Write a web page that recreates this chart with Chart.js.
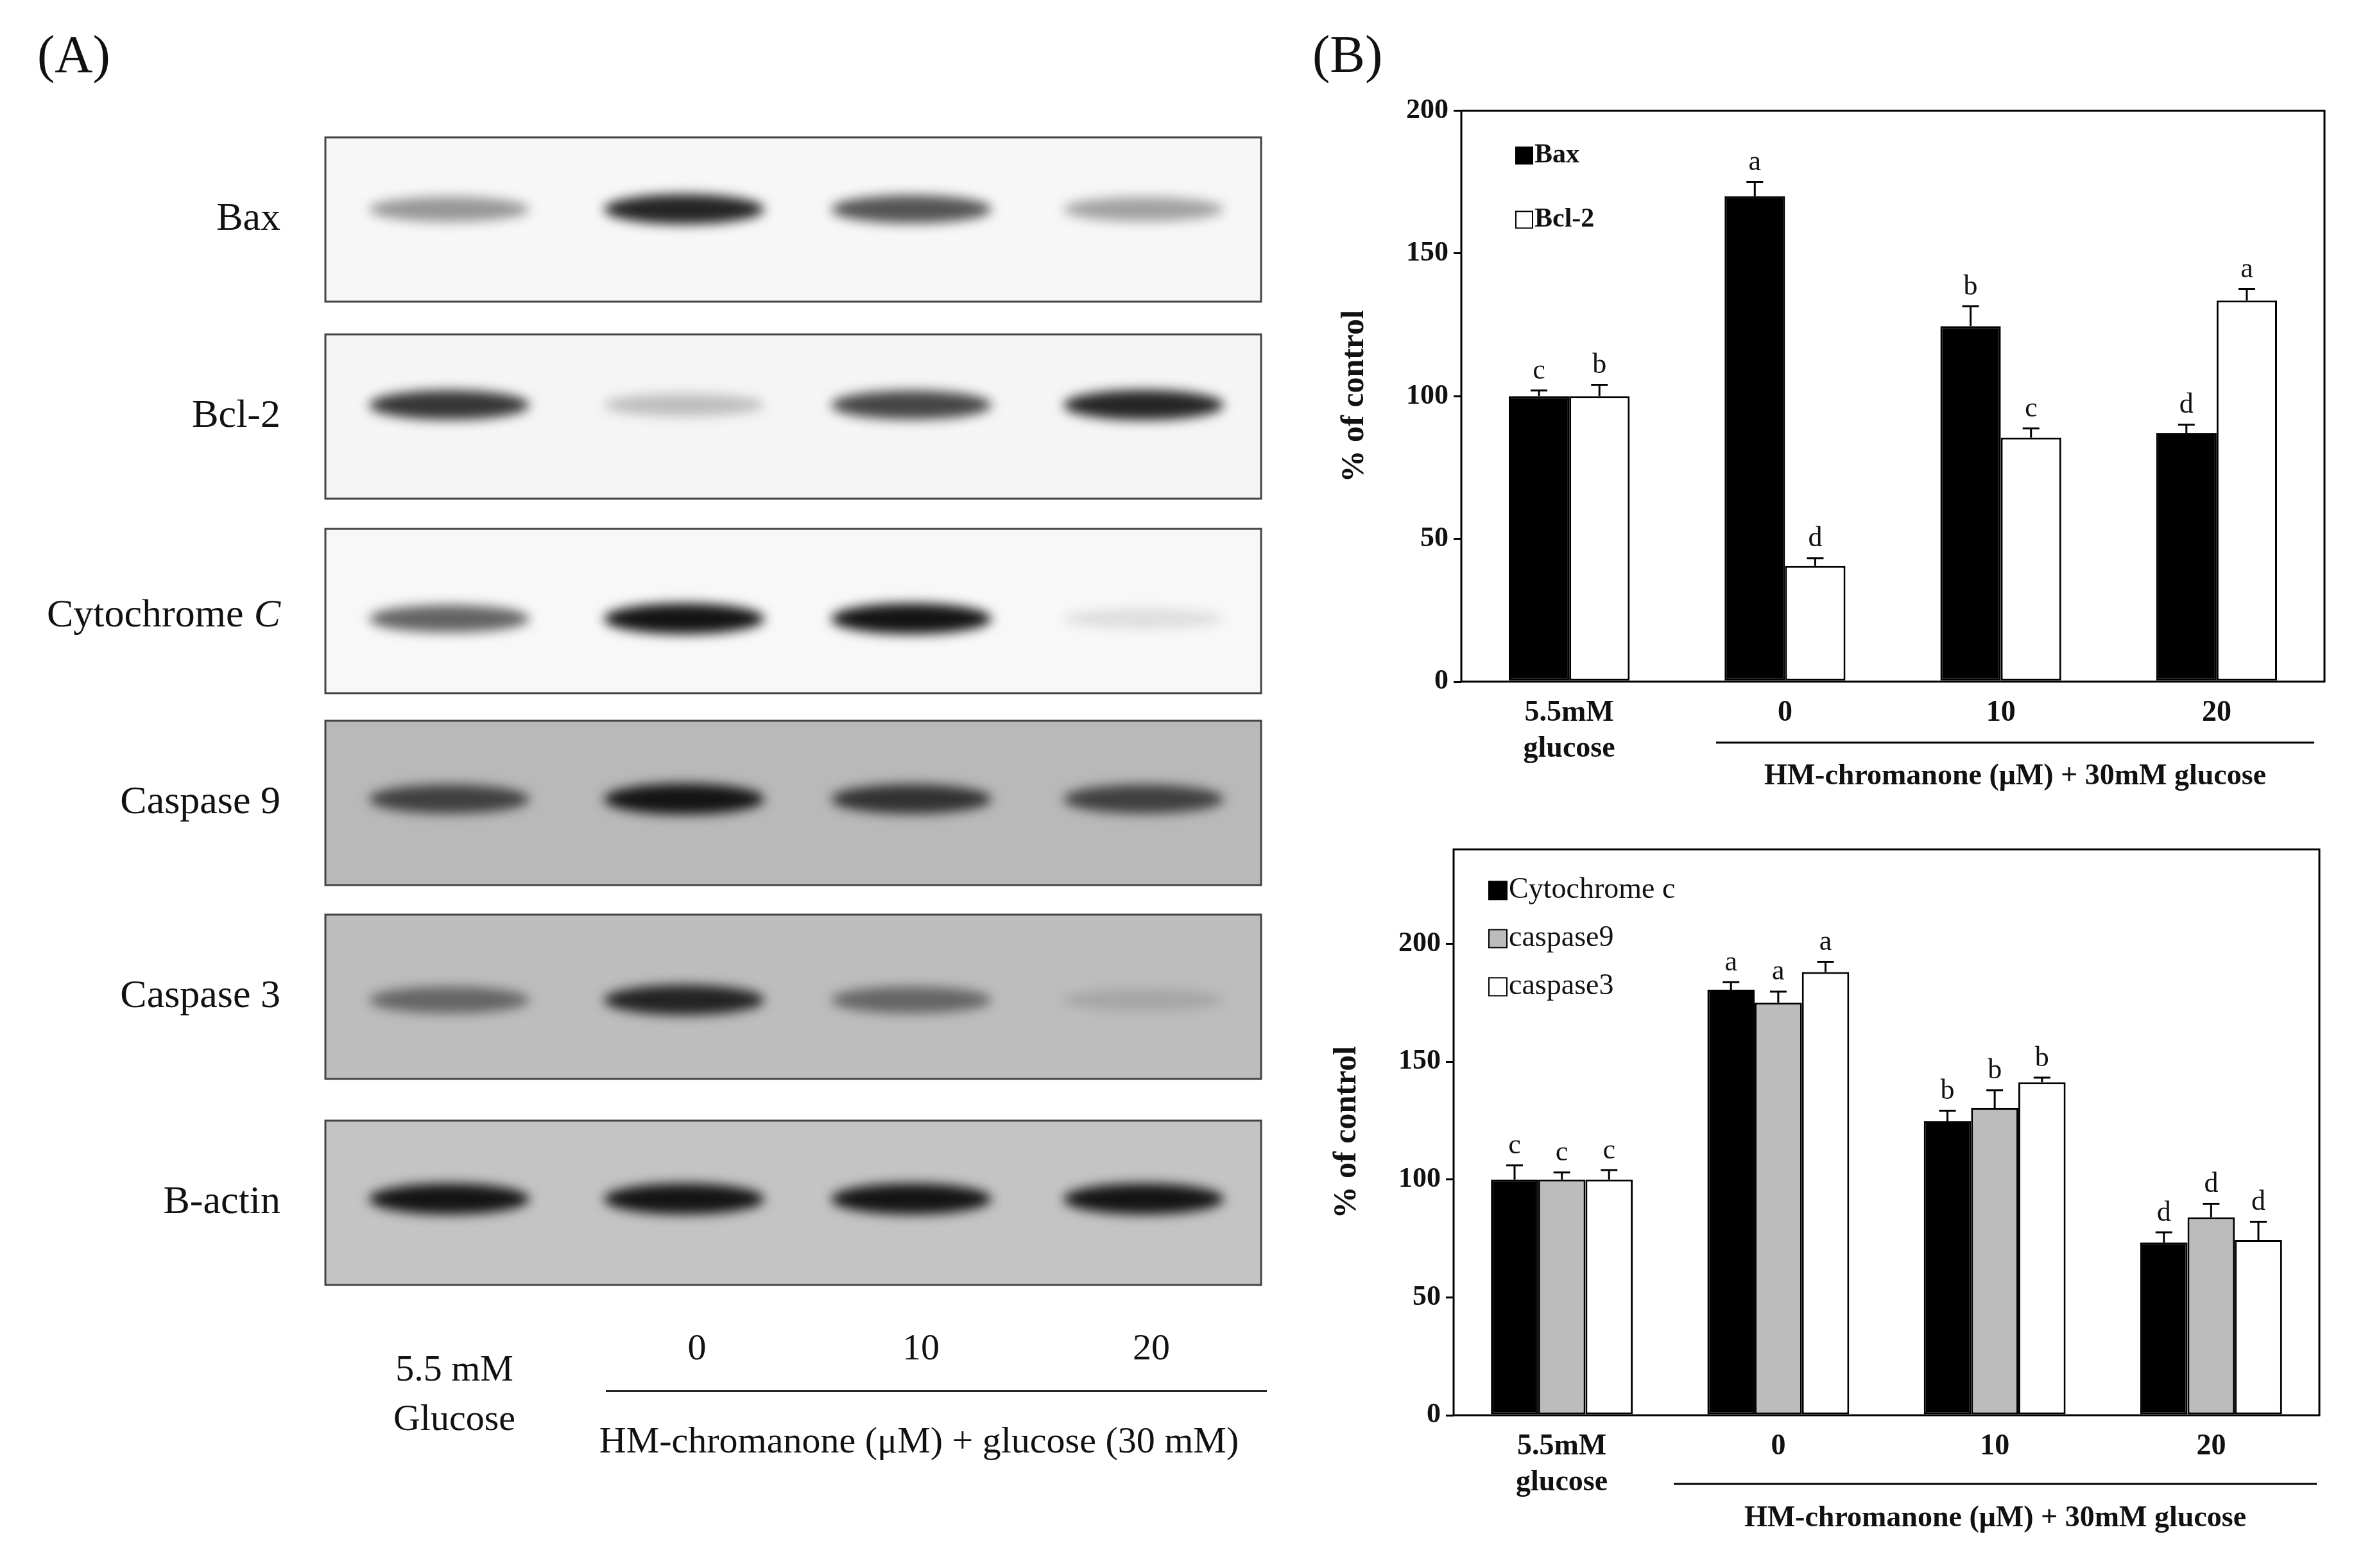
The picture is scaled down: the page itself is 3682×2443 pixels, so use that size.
<!DOCTYPE html>
<html><head><meta charset="utf-8">
<script src="https://cdn.jsdelivr.net/npm/chart.js@4.4.0/dist/chart.umd.min.js"></script>
<style>
body{margin:0;width:3682px;height:2443px;background:#fff;position:relative;overflow:hidden;font-family:"Liberation Serif",serif}
canvas.c{position:absolute}
.t{position:absolute;white-space:nowrap;font-family:"Liberation Serif",serif;color:#111}
</style></head><body>
<canvas id="blots" class="c" style="left:0;top:0" width="2060" height="2443"></canvas>
<div class="t" style="left:58px;top:38px;font-size:82px">(A)</div>
<div class="t" style="left:2045px;top:38px;font-size:82px">(B)</div>
<div class="t" style="left:708px;top:2098px;font-size:58px;transform:translateX(-50%)">5.5 mM</div>
<div class="t" style="left:708px;top:2175px;font-size:58px;transform:translateX(-50%)">Glucose</div>
<div class="t" style="left:1086px;top:2065px;font-size:58px;transform:translateX(-50%)">0</div>
<div class="t" style="left:1435px;top:2065px;font-size:58px;transform:translateX(-50%)">10</div>
<div class="t" style="left:1794px;top:2065px;font-size:58px;transform:translateX(-50%)">20</div>
<div style="position:absolute;left:944px;top:2166px;width:1030px;height:3px;background:#222"></div>
<div class="t" style="left:1432px;top:2210px;font-size:58px;transform:translateX(-50%)">HM-chromanone (μM) + glucose (30 mM)</div>
<canvas id="c1" class="c" style="left:2077px;top:138px;width:1565px;height:1174px"></canvas>
<canvas id="c2" class="c" style="left:2065px;top:1289px;width:1569px;height:1166px"></canvas>
<script>
// ---------- data ----------
const groups = [["5.5mM","glucose"],"0","10","20"];
const bax = [100,170,124.5,87];
const baxErr = [2,5,7,3];
const baxSig = ["c","a","b","d"];
const bcl2 = [100,40.5,85.5,133.5];
const bcl2Err = [4,2.7,3.2,4];
const bcl2Sig = ["b","d","c","a"];
const cytc = [100,180.5,124.7,73.3];
const cytcErr = [6,3.2,4.5,4.3];
const cytcSig = ["c","a","b","d"];
const casp9 = [100,175,130.4,84];
const casp9Err = [3,4.7,7.4,5.7];
const casp9Sig = ["c","a","b","d"];
const casp3 = [100,188,141.2,74.3];
const casp3Err = [4,4.3,2,7.8];
const casp3Sig = ["c","a","b","d"];
const yTicks1 = [0,50,100,150,200];
const yTicks2 = [0,50,100,150,200];
// blot band intensities per lane (visual, panel A)
const blotNames = ["Bax","Bcl-2","Cytochrome C","Caspase 9","Caspase 3","B-actin"];
const blotBands = [[0.55,0.95,0.8,0.5],[0.9,0.35,0.85,0.95],[0.75,1,1,0.15],[0.85,1,0.9,0.85],[0.7,0.95,0.7,0.35],[1,1,1,1]];

// ---------- panel A ----------
(function(){
  const c=document.getElementById('blots'),x=c.getContext('2d');
  const tops=[214,521,824,1123,1425,1746], h=256, L=507, R=1965;
  const bg=['#f7f7f7','#f5f5f5','#f8f8f8','#b9b9b9','#bdbdbd','#c4c4c4'];
  const bandOff=[112,110,140,122,133,122];
  const lanes=[700,1066,1420,1782];
  tops.forEach((t,i)=>{
    x.fillStyle=bg[i];x.fillRect(L,t,R-L,h);
    x.save();x.beginPath();x.rect(L,t,R-L,h);x.clip();
    x.filter='blur(9px)';
    blotBands[i].forEach((v,j)=>{
      const g=Math.round(20+(1-v)*200);
      x.fillStyle=`rgba(${g},${g},${g},${0.35+0.65*v})`;
      x.beginPath();x.ellipse(lanes[j],t+bandOff[i],125,14+10*v,0,0,Math.PI*2);x.fill();
    });
    x.restore();
    x.strokeStyle='#444';x.lineWidth=3;x.strokeRect(L,t,R-L,h);
    x.fillStyle='#111';x.font='62px "Liberation Serif"';x.textAlign='right';x.textBaseline='middle';
    if(i===2){x.fillText('Cytochrome ',395,t+h/2+8);x.font='italic 62px "Liberation Serif"';x.fillText('C',437,t+h/2+8);}
    else x.fillText(blotNames[i],437,t+h/2);
  });
})();

// ---------- charts ----------
const errPlugin={id:'err',afterDatasetsDraw(ch,a,o){
  const ctx=ch.ctx,ys=ch.scales.y,ca=ch.chartArea,p=ch.options.plugins.err;
  ctx.save();
  ch.data.datasets.forEach((ds,di)=>{
    const meta=ch.getDatasetMeta(di);
    meta.data.forEach((el,i)=>{
      const v=ds.data[i],e=p.err[di][i],yt=ys.getPixelForValue(v+e);
      ctx.strokeStyle='#000';ctx.lineWidth=3;
      ctx.beginPath();ctx.moveTo(el.x,el.y);ctx.lineTo(el.x,yt);ctx.moveTo(el.x-13,yt);ctx.lineTo(el.x+13,yt);ctx.stroke();
      ctx.fillStyle='#111';ctx.font='44px "Liberation Serif"';ctx.textAlign='center';ctx.textBaseline='bottom';
      ctx.fillText(p.sig[di][i],el.x,yt-8);
    });
  });
  ctx.strokeStyle='#000';ctx.lineWidth=3;ctx.strokeRect(ca.left,ca.top,ca.right-ca.left,ca.bottom-ca.top);
  const lg=p.legend;
  lg.items.forEach((it,k)=>{
    const ly=ca.top+lg.y0+k*lg.dy;
    ctx.fillStyle=it.c;ctx.fillRect(ca.left+lg.x0,ly-lg.box/2,lg.box,lg.box);
    ctx.strokeStyle='#000';ctx.lineWidth=2;ctx.strokeRect(ca.left+lg.x0,ly-lg.box/2,lg.box,lg.box);
    ctx.fillStyle='#111';ctx.font=lg.font;ctx.textAlign='left';ctx.textBaseline='middle';
    ctx.fillText(it.t,ca.left+lg.x0+lg.box+3,ly);
  });
  ctx.strokeStyle='#000';ctx.lineWidth=3;ctx.beginPath();
  ctx.moveTo(p.line.x1,ca.bottom+p.line.dy);ctx.lineTo(p.line.x2,ca.bottom+p.line.dy);ctx.stroke();
  ctx.fillStyle='#111';ctx.font='bold 46px "Liberation Serif"';ctx.textAlign='center';ctx.textBaseline='middle';
  ctx.fillText('HM-chromanone (μM) + 30mM glucose',(p.line.x1+p.line.x2)/2,ca.bottom+p.line.ty);
  ctx.restore();
}};

function mk(id,sets,errs,sigs,ticks,max,catPct,legend,line){
  return new Chart(document.getElementById(id),{
    type:'bar',
    data:{labels:groups,datasets:sets},
    options:{responsive:false,animation:false,devicePixelRatio:1,
      layout:{padding:{top:20,right:20,left:0,bottom:0}},
      datasets:{bar:{barPercentage:1,categoryPercentage:catPct,borderColor:'#000',borderWidth:3,borderSkipped:false}},
      plugins:{legend:{display:false},tooltip:{enabled:false},
        err:{err:errs,sig:sigs,legend:legend,line:line}},
      scales:{
        x:{grid:{display:false},border:{display:false},
          ticks:{color:'#111',font:{family:'Liberation Serif',weight:'bold',size:46},padding:14},
          afterFit(s){s.height=250;}},
        y:{min:0,max:max,afterBuildTicks(s){s.ticks=ticks.map(v=>({value:v}));},
          grid:{drawOnChartArea:false,tickLength:12,color:'#000',lineWidth:3},border:{display:false},
          ticks:{color:'#111',font:{family:'Liberation Serif',weight:'bold',size:44},padding:8},
          title:{display:true,text:'% of control',color:'#111',font:{family:'Liberation Serif',weight:'bold',size:50},padding:{bottom:24}},
          afterFit(s){s.width=200;}}
      }},
    plugins:[errPlugin]
  });
}
const c1=document.getElementById('c1');c1.width=1565;c1.height=1174;
const c2=document.getElementById('c2');c2.width=1569;c2.height=1166;
mk('c1',[
  {label:'Bax',data:bax,backgroundColor:'#000'},
  {label:'Bcl-2',data:bcl2,backgroundColor:'#fff'}],
  [baxErr,bcl2Err],[baxSig,bcl2Sig],yTicks1,200,0.56,
  {x0:85,y0:70,dy:100,box:26,font:'bold 42px "Liberation Serif"',items:[{t:'Bax',c:'#000'},{t:'Bcl-2',c:'#fff'}]},
  {x1:597,x2:1529,dy:95,ty:148});
mk('c2',[
  {label:'Cytochrome c',data:cytc,backgroundColor:'#000'},
  {label:'caspase9',data:casp9,backgroundColor:'#bcbcbc'},
  {label:'caspase3',data:casp3,backgroundColor:'#fff'}],
  [cytcErr,casp9Err,casp3Err],[cytcSig,casp9Sig,casp3Sig],yTicks2,240,0.655,
  {x0:55,y0:64,dy:75,box:28,font:'46px "Liberation Serif"',items:[{t:'Cytochrome c',c:'#000'},{t:'caspase9',c:'#bcbcbc'},{t:'caspase3',c:'#fff'}]},
  {x1:543,x2:1545,dy:107,ty:161});
</script>
</body></html>
